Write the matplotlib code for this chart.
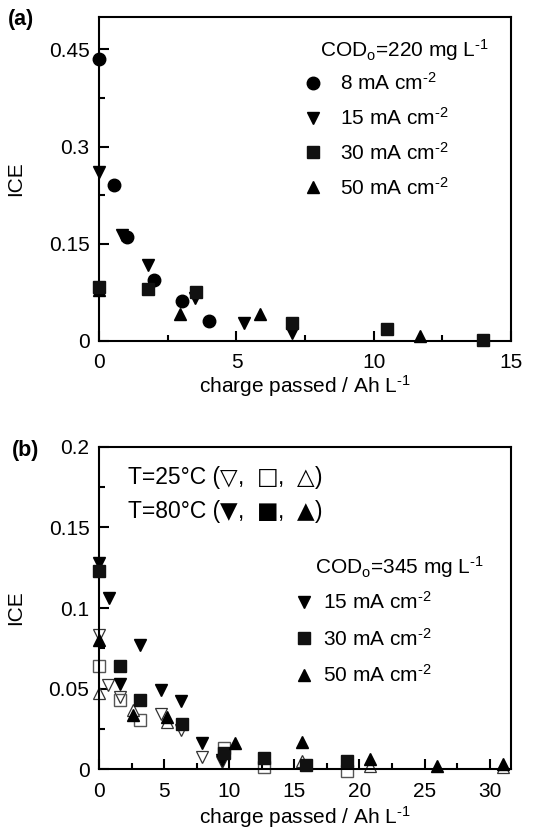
import matplotlib
matplotlib.use("Agg")
import matplotlib.pyplot as plt
from matplotlib.ticker import MultipleLocator, FuncFormatter

plt.rcParams['font.family'] = ['Liberation Sans', 'DejaVu Sans']
plt.rcParams['mathtext.fontset'] = 'custom'
plt.rcParams['mathtext.rm'] = 'Liberation Sans'
plt.rcParams['mathtext.it'] = 'Liberation Sans:italic'

# ---------------- Panel (a) data: COD0 = 220 mg/L ----------------
a_8_x = [0.0, 0.54, 1.02, 1.99, 3.01, 4.0]
a_8_y = [0.435, 0.240, 0.161, 0.094, 0.062, 0.031]
a_15_x = [0.0, 0.84, 1.77, 3.49, 5.27, 7.02]
a_15_y = [0.261, 0.163, 0.118, 0.066, 0.028, 0.013]
a_30_x = [0.0, 1.77, 3.52, 7.02, 10.48, 13.98]
a_30_y = [0.083, 0.080, 0.0755, 0.027, 0.018, 0.001]
a_50_x = [0.0, 2.95, 5.84, 11.69]
a_50_y = [0.078, 0.042, 0.041, 0.007]

# ---------------- Panel (b) data: COD0 = 345 mg/L ----------------
# 80 C (filled)
b80_15_x = [0.0, 0.75, 1.58, 3.15, 4.73, 6.28, 7.88, 9.45]
b80_15_y = [0.128, 0.106, 0.053, 0.077, 0.049, 0.0425, 0.0164, 0.0056]
b80_30_x = [0.0, 1.58, 3.15, 6.33, 9.58, 12.69, 15.87, 19.04]
b80_30_y = [0.123, 0.064, 0.043, 0.028, 0.0098, 0.0068, 0.0027, 0.0052]
b80_50_x = [0.0, 2.58, 5.2, 10.41, 15.57, 20.83, 25.99, 31.05]
b80_50_y = [0.080, 0.0336, 0.032, 0.016, 0.0166, 0.0062, 0.0018, 0.003]
# 25 C (open)
b25_15_x = [0.0, 0.7, 1.58, 4.73, 6.28, 7.88, 9.45]
b25_15_y = [0.083, 0.052, 0.045, 0.034, 0.024, 0.0073, 0.0046]
b25_30_x = [0.0, 1.58, 3.15, 9.58, 12.69, 19.04]
b25_30_y = [0.0637, 0.043, 0.0305, 0.0129, 0.0015, -0.001]
b25_50_x = [0.0, 2.58, 5.2, 15.57, 20.83, 31.05]
b25_50_y = [0.047, 0.0367, 0.0295, 0.005, 0.002, 0.001]

labels_a = [r'8 mA cm$^{\text{-2}}$', r'15 mA cm$^{\text{-2}}$',
            r'30 mA cm$^{\text{-2}}$', r'50 mA cm$^{\text{-2}}$']
labels_b = [r'15 mA cm$^{\text{-2}}$', r'30 mA cm$^{\text{-2}}$', r'50 mA cm$^{\text{-2}}$']
xlabel = r'charge passed / Ah L$^{\text{-1}}$'

FS = 15
MS = 9

fig = plt.figure(figsize=(5.42, 8.31), dpi=100)
ax1 = fig.add_axes([0.183, 0.5897, 0.760, 0.3898])
ax2 = fig.add_axes([0.183, 0.0746, 0.760, 0.3875])

fmt = FuncFormatter(lambda v, p: ('%g' % round(v, 4)))

for ax in (ax1, ax2):
    for s in ax.spines.values():
        s.set_linewidth(1.5)
    ax.tick_params(which='both', direction='in', top=False, right=False,
                   labelsize=FS, width=1.5)
    ax.tick_params(which='major', length=7.5)
    ax.tick_params(which='minor', length=4.5)
    ax.tick_params(axis='y', pad=7)
    ax.tick_params(axis='x', pad=9)
    ax.yaxis.set_major_formatter(fmt)
    ax.xaxis.set_major_formatter(fmt)

# Panel (a)
h8, = ax1.plot(a_8_x, a_8_y, 'o', color='black', ms=MS, clip_on=False, zorder=4)
h15, = ax1.plot(a_15_x, a_15_y, 'v', color='black', ms=MS, clip_on=False, zorder=3)
h30, = ax1.plot(a_30_x, a_30_y, 's', color='#111111', ms=MS, clip_on=False, zorder=4)
h50, = ax1.plot(a_50_x, a_50_y, '^', color='black', ms=MS, clip_on=False, zorder=2)
ax1.set_xlim(0, 15)
ax1.set_ylim(0, 0.5)
ax1.xaxis.set_major_locator(MultipleLocator(5))
ax1.xaxis.set_minor_locator(MultipleLocator(2.5))
ax1.yaxis.set_major_locator(MultipleLocator(0.15))
ax1.yaxis.set_minor_locator(MultipleLocator(0.075))
ax1.set_ylabel('ICE', fontsize=FS)
ax1.yaxis.set_label_coords(-0.18, 0.5)
ax1.set_xlabel(xlabel, fontsize=FS)
ax1.xaxis.set_label_coords(0.5, -0.10)
ax1.text(0.536, 0.898, r'COD$_\mathregular{o}$=220 mg L$^{\text{-1}}$', transform=ax1.transAxes,
         fontsize=FS, ha='left', va='center')
ax1.legend([h8, h15, h30, h50], labels_a, loc='upper left', bbox_to_anchor=(0.493, 0.830),
           frameon=False, fontsize=FS, handlelength=1.0, handletextpad=0.8,
           borderpad=0, borderaxespad=0, labelspacing=0.62, markerscale=1.0)

# Panel (b)
ax2.plot(b25_15_x, b25_15_y, 'v', mfc='white', mec='#333333', mew=0.9, ms=MS, clip_on=False, zorder=2)
ax2.plot(b25_30_x, b25_30_y, 's', mfc='none', mec='#555555', mew=1.0, ms=MS, clip_on=False, zorder=2)
ax2.plot(b25_50_x, b25_50_y, '^', mfc='white', mec='#333333', mew=0.9, ms=MS, clip_on=False, zorder=2)
g15, = ax2.plot(b80_15_x, b80_15_y, 'v', color='black', ms=MS, clip_on=False, zorder=3)
g30, = ax2.plot(b80_30_x, b80_30_y, 's', color='#111111', ms=MS, clip_on=False, zorder=3)
g50, = ax2.plot(b80_50_x, b80_50_y, '^', color='black', ms=MS, clip_on=False, zorder=3)
ax2.set_xlim(0, 31.65)
ax2.set_ylim(0, 0.2)
ax2.xaxis.set_major_locator(MultipleLocator(5))
ax2.xaxis.set_minor_locator(MultipleLocator(2.5))
ax2.yaxis.set_major_locator(MultipleLocator(0.05))
ax2.yaxis.set_minor_locator(MultipleLocator(0.025))
ax2.set_ylabel('ICE', fontsize=FS)
ax2.yaxis.set_label_coords(-0.18, 0.5)
ax2.set_xlabel(xlabel, fontsize=FS)
ax2.xaxis.set_label_coords(0.5, -0.108)

TFS = 16.5


def chain_text(ax, x, y, parts):
    """Write consecutive text pieces (text, family) left to right."""
    fam0 = parts[0][1]
    prev = ax.text(x, y, parts[0][0], transform=ax.transAxes, fontsize=TFS,
                   ha='left', va='baseline', family=fam0)
    for s, fam in parts[1:]:
        prev = ax.annotate(s, xy=(1, 0), xycoords=prev, fontsize=TFS,
                           ha='left', va='bottom', family=fam)
    return prev


LS = ['Liberation Sans', 'DejaVu Sans']
DJ = ['DejaVu Sans']
chain_text(ax2, 0.070, 0.885, [('T=25\u00b0C (', LS), ('\u25bd', DJ), (',  ', LS), ('\u25a1', DJ),
                                (',  ', LS), ('\u25b3', DJ), (')', LS)])
chain_text(ax2, 0.070, 0.779, [('T=80\u00b0C (', LS), ('\u25bc', DJ), (',  ', LS), ('\u25a0', DJ),
                                (',  ', LS), ('\u25b2', DJ), (')', LS)])
ax2.text(0.524, 0.627, r'COD$_\mathregular{o}$=345 mg L$^{\text{-1}}$', transform=ax2.transAxes,
         fontsize=FS, ha='left', va='center')
ax2.legend([g15, g30, g50], labels_b, loc='upper left', bbox_to_anchor=(0.471, 0.553),
           frameon=False, fontsize=FS, handlelength=1.0, handletextpad=0.45,
           borderpad=0, borderaxespad=0, labelspacing=0.7)

fig.text(0.015, 1 - 20 / 831, '(a)', fontsize=15.5, fontweight='bold', ha='left', va='center')
fig.text(0.022, 1 - 450 / 831, '(b)', fontsize=15.5, fontweight='bold', ha='left', va='center')

fig.savefig('out.png', dpi=100)
